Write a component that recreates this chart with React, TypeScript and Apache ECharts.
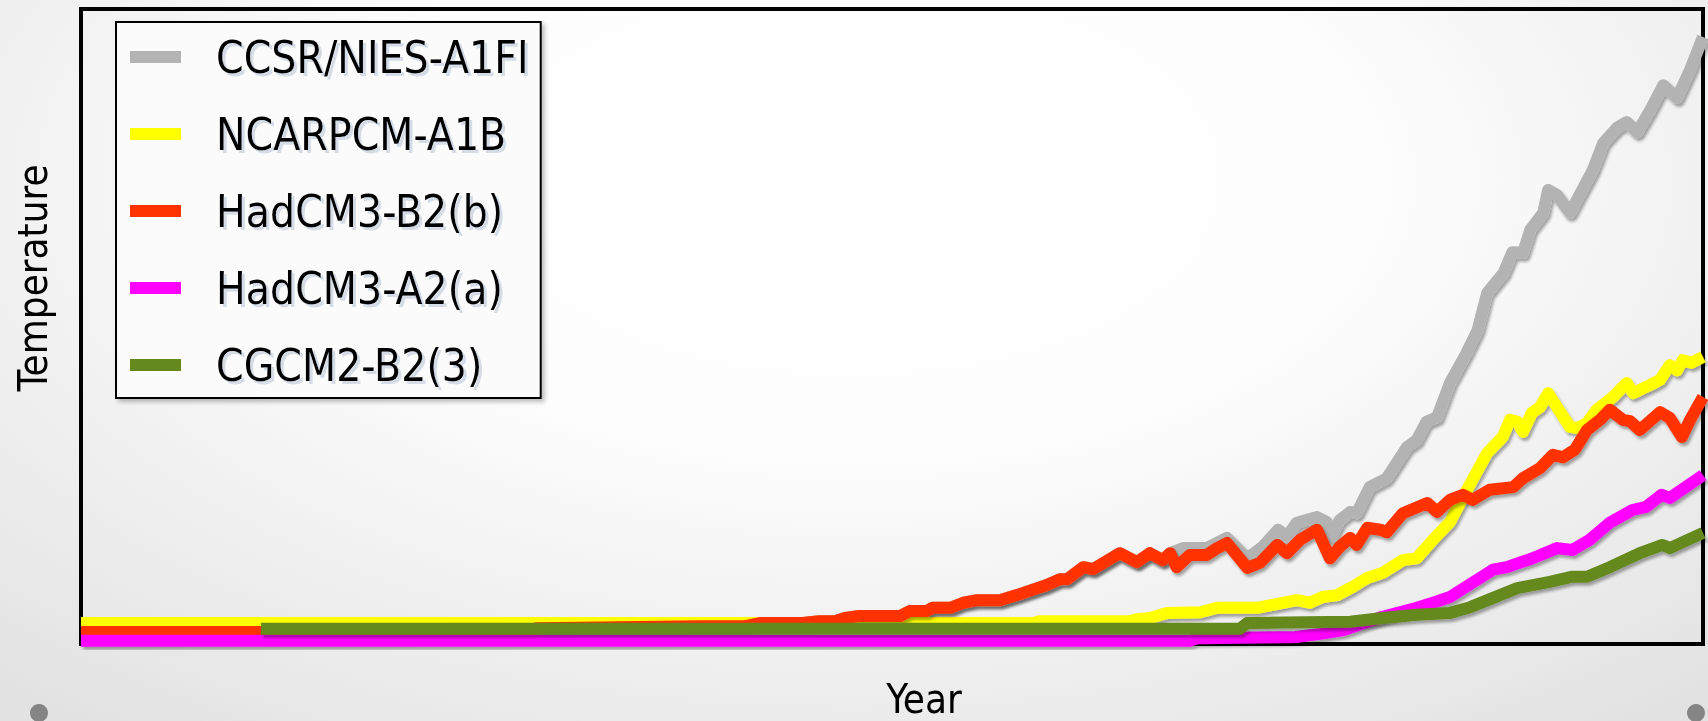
import React, { useEffect, useRef } from "react";
import * as echarts from "echarts";

const seriesNames = ["CCSR/NIES-A1FI", "NCARPCM-A1B", "HadCM3-B2(b)", "HadCM3-A2(a)", "CGCM2-B2(3)"];
const seriesColors = ["#b3b3b3", "#ffff00", "#ff3300", "#ff00ff", "#65891f"];

const ccsrData = [
  [1900, 0.19], [1955.4, 0.19], [1956.1, 0.25], [1976.3, 0.28], [1981.9, 0.28], [1983.7, 0.33],
  [1989, 0.33], [1991, 0.36], [1993, 0.36], [1994.2, 0.41], [1996, 0.44], [2001, 0.44],
  [2002.2, 0.52], [2004.3, 0.52], [2005, 0.57], [2007.2, 0.57], [2008.8, 0.65], [2010.5, 0.69],
  [2013.3, 0.69], [2015.4, 0.77], [2019.1, 0.93], [2020.7, 1.02], [2021.6, 1.02], [2023.6, 1.21],
  [2024.8, 1.18], [2028.1, 1.43], [2030.2, 1.29], [2031.8, 1.43], [2033.4, 1.32], [2034.3, 1.43],
  [2035.9, 1.51], [2038.8, 1.51], [2041.3, 1.67], [2043.8, 1.35], [2045.7, 1.53], [2047.6, 1.8],
  [2048.7, 1.69], [2049.9, 1.91], [2052.4, 2.0], [2053.6, 1.92], [2054.2, 1.69], [2055.2, 1.95],
  [2056.5, 2.08], [2057.3, 2.06], [2058.9, 2.47], [2061, 2.61], [2063.5, 3.1], [2064.7, 3.21],
  [2065.9, 3.5], [2067.2, 3.57], [2068.8, 4.11], [2070.7, 4.55], [2072.2, 4.94], [2073.4, 5.53],
  [2075.4, 5.84], [2076.5, 6.17], [2077.8, 6.16], [2078.7, 6.52], [2080.3, 6.79], [2080.9, 7.15],
  [2082, 7.07], [2083.6, 6.79], [2086.4, 7.46], [2087.7, 7.89], [2089.4, 8.13], [2090.6, 8.22],
  [2091.9, 8.06], [2093.5, 8.41], [2095.1, 8.8], [2096.8, 8.6], [2098.4, 9.04], [2100, 9.56],
];

const ncarData = [
  [1900, 0.33], [2017.4, 0.33], [2018.2, 0.36], [2029.3, 0.36], [2030.2, 0.39], [2031.8, 0.41],
  [2033.9, 0.49], [2038, 0.5], [2040.1, 0.57], [2045, 0.57], [2046.6, 0.61], [2049.9, 0.69],
  [2051.5, 0.65], [2053.1, 0.74], [2054.9, 0.77], [2056.8, 0.9], [2058.6, 1.04], [2060.5, 1.12],
  [2063, 1.32], [2064.7, 1.35], [2066.7, 1.64], [2067.9, 1.8], [2068.8, 1.92], [2070.9, 2.43],
  [2073.4, 3.01], [2075.3, 3.26], [2076.2, 3.53], [2077.1, 3.5], [2077.8, 3.34], [2078.9, 3.64],
  [2079.9, 3.73], [2080.9, 3.95], [2082, 3.73], [2083.6, 3.42], [2084.5, 3.4], [2085.7, 3.48],
  [2086.9, 3.69], [2088.9, 3.89], [2090.6, 4.11], [2091.4, 3.95], [2093.5, 4.08], [2094.7, 4.16],
  [2095.9, 4.39], [2096.8, 4.31], [2097.5, 4.47], [2098.6, 4.43], [2100, 4.52],
];

const hadB2Data = [
  [1900, 0.19], [1955.4, 0.19], [1956.1, 0.25], [1976.3, 0.28], [1981.9, 0.28], [1983.7, 0.33],
  [1989, 0.33], [1991, 0.36], [1993, 0.36], [1994.2, 0.41], [1996, 0.44], [2001, 0.44],
  [2002.2, 0.52], [2004.3, 0.52], [2005, 0.57], [2007.2, 0.57], [2008.8, 0.65], [2010.5, 0.69],
  [2013.3, 0.69], [2015.4, 0.77], [2019.1, 0.93], [2020.7, 1.02], [2021.6, 1.02], [2023.6, 1.21],
  [2024.8, 1.18], [2028.1, 1.43], [2030.2, 1.29], [2031.8, 1.43], [2033.4, 1.32], [2034.3, 1.43],
  [2035.1, 1.21], [2036.7, 1.4], [2038.8, 1.4], [2040.1, 1.51], [2041.3, 1.59], [2043.8, 1.2],
  [2045.4, 1.28], [2047.5, 1.56], [2048.7, 1.43], [2050.3, 1.64], [2052.4, 1.8], [2054, 1.35],
  [2055.2, 1.53], [2056.5, 1.67], [2057.3, 1.56], [2058.6, 1.83], [2060.2, 1.8], [2061, 1.76],
  [2063, 2.06], [2066, 2.22], [2067.2, 2.08], [2068.8, 2.27], [2070.4, 2.35], [2071.6, 2.27],
  [2073.7, 2.43], [2076.6, 2.47], [2077.8, 2.61], [2079.9, 2.77], [2081.5, 2.98], [2082.7, 2.94],
  [2084.2, 3.06], [2085.7, 3.37], [2087.3, 3.53], [2088.5, 3.69], [2090.1, 3.53], [2091, 3.51],
  [2092.2, 3.37], [2094.7, 3.65], [2095.9, 3.56], [2097.4, 3.26], [2098.4, 3.53], [2100, 3.89],
];

const hadA2Data = [
  [1900, 0.05], [2036.7, 0.05], [2037.6, 0.09], [2049.8, 0.11], [2052.8, 0.16], [2055.7, 0.22],
  [2058.6, 0.35], [2060.5, 0.43], [2064.7, 0.57], [2066.7, 0.65], [2068.8, 0.74], [2074.1, 1.17],
  [2075.8, 1.21], [2079, 1.35], [2082, 1.51], [2083.9, 1.48], [2086, 1.64], [2088.5, 1.91],
  [2091.3, 2.11], [2093, 2.16], [2094.9, 2.35], [2095.9, 2.3], [2100, 2.66],
];

const cgcmData = [
  [1922.2, 0.24], [2042.9, 0.24], [2043.8, 0.33], [2056.5, 0.35], [2060.5, 0.41], [2064.7, 0.46],
  [2068.8, 0.49], [2071.3, 0.58], [2077.1, 0.88], [2081.1, 0.98], [2083.9, 1.06], [2085.7, 1.06],
  [2088.5, 1.21], [2092.2, 1.43], [2095, 1.56], [2095.9, 1.51], [2100, 1.75],
];

const allData = [ccsrData, ncarData, hadB2Data, hadA2Data, cgcmData];
const xTitle = "Year";
const yTitle = "Temperature";

export default function App() {
  const ref = useRef<HTMLDivElement>(null);
  useEffect(() => {
    if (!ref.current) return;
    const chart = echarts.init(ref.current, null, { renderer: "svg" });
    const font = "'DejaVu Sans Condensed', 'DejaVu Sans', Verdana, sans-serif";
    chart.setOption({
      animation: false,
      backgroundColor: "transparent",
      grid: {
        left: 81,
        top: 9,
        right: 5,
        bottom: 77,
        show: true,
        borderColor: "#000",
        borderWidth: 4,
        backgroundColor: "transparent",
      },
      xAxis: { type: "value", min: 1900, max: 2100, show: false },
      yAxis: { type: "value", min: 0, max: 10, show: false },
      legend: {
        left: 116,
        top: 22,
        orient: "vertical",
        icon: "rect",
        itemWidth: 51,
        itemHeight: 12,
        itemGap: 27,
        padding: [10, 12, 8, 14],
        backgroundColor: "#fbfbfb",
        borderColor: "#000",
        borderWidth: 2,
        shadowColor: "rgba(0,0,0,0.25)",
        shadowBlur: 4,
        shadowOffsetX: 3,
        shadowOffsetY: 3,
        data: seriesNames,
        textStyle: {
          fontFamily: font,
          fontSize: 44,
          color: "#000",
          lineHeight: 50,
          padding: [0, 0, 0, 30],
          textShadowColor: "rgba(175,190,210,0.5)",
          textShadowOffsetX: 3,
          textShadowOffsetY: 3,
          textShadowBlur: 1,
        },
      },
      series: seriesNames.map((name, i) => ({
        name,
        type: "line",
        data: allData[i],
        color: seriesColors[i],
        showSymbol: false,
        symbol: "none",
        itemStyle: { color: seriesColors[i] },
        lineStyle: {
          color: seriesColors[i],
          width: 12,
          join: "round",
          cap: "butt",
          shadowColor: "rgba(0,0,0,0.35)",
          shadowBlur: 3,
          shadowOffsetX: 2,
          shadowOffsetY: 3,
        },
        emphasis: { disabled: true },
      })),
      graphic: [
        {
          type: "text",
          x: 924,
          y: 699,
          style: {
            text: xTitle,
            font: `40px ${font}`,
            fill: "#000",
            align: "center",
            verticalAlign: "middle",
          },
        },
        {
          type: "text",
          x: 33,
          y: 278,
          rotation: Math.PI / 2,
          style: {
            text: yTitle,
            font: `40px ${font}`,
            fill: "#000",
            align: "center",
            verticalAlign: "middle",
          },
        },
        { type: "circle", shape: { cx: 39, cy: 713, r: 9 }, style: { fill: "#858585" } },
        { type: "circle", shape: { cx: 1696, cy: 713, r: 9 }, style: { fill: "#858585" } },
      ],
    });
    return () => chart.dispose();
  }, []);
  return (
    <div
      ref={ref}
      style={{
        position: "fixed",
        left: 0,
        top: 0,
        width: 1708,
        height: 721,
        background:
          "radial-gradient(ellipse 75% 95% at 50% 25%, #ffffff 0%, #fdfdfd 40%, #ebebeb 80%, #e2e2e2 100%)",
      }}
    />
  );
}
